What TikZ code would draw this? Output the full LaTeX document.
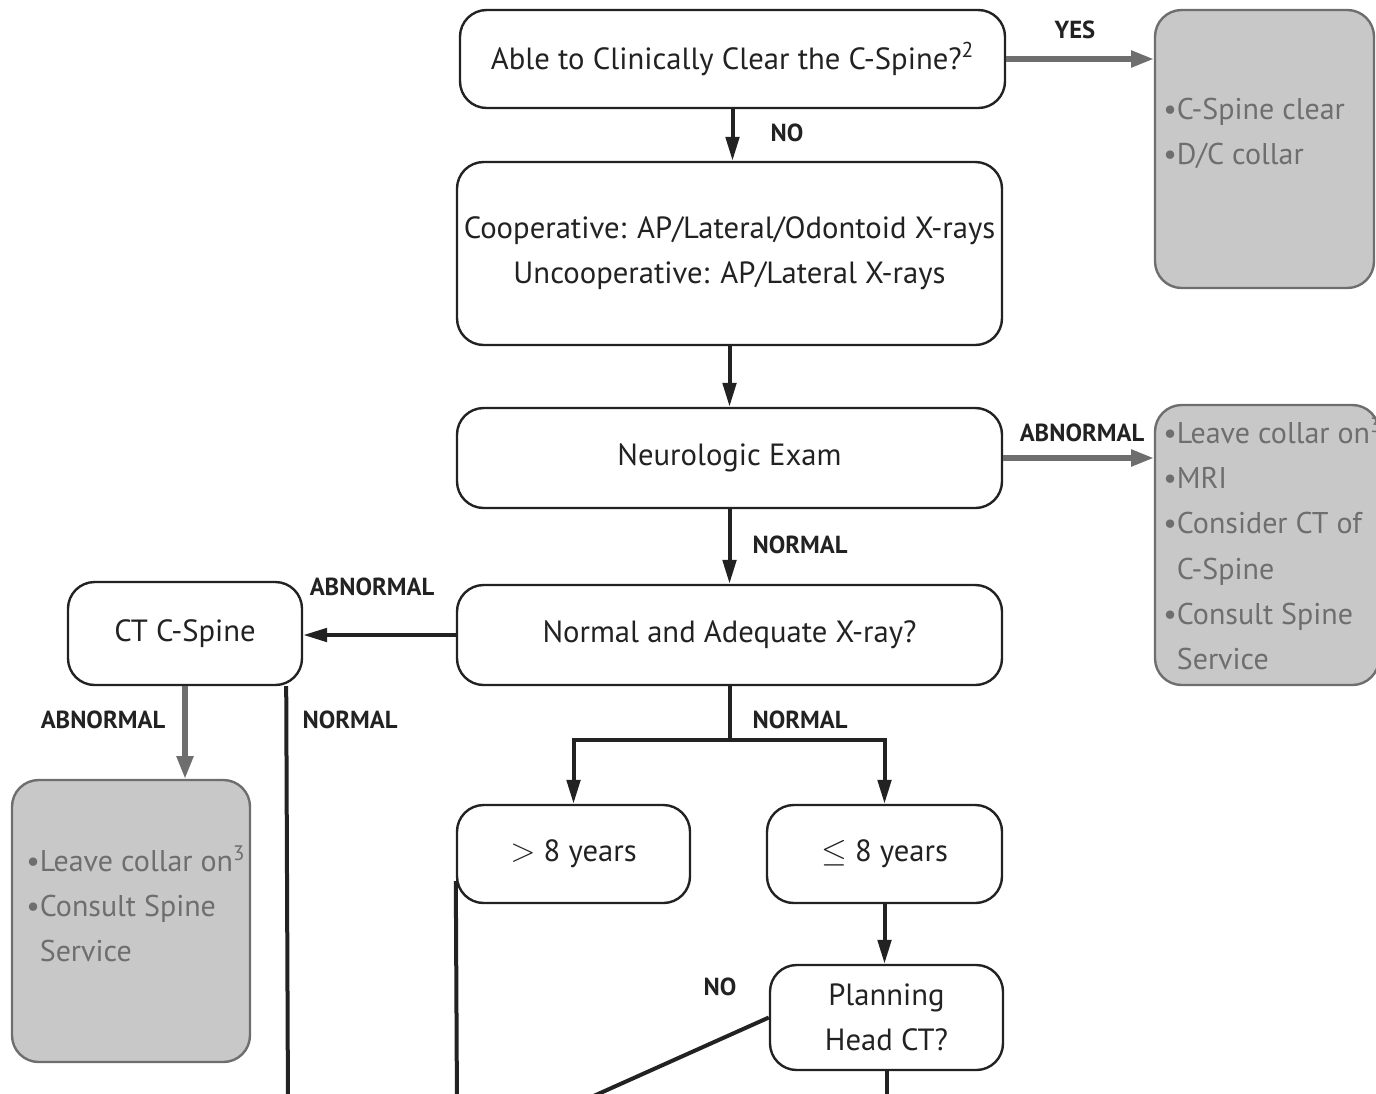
\documentclass[tikz,border=0pt]{standalone}
\usepackage{fontspec}
\setmainfont{PT Sans}
\usetikzlibrary{arrows.meta,calc}
\definecolor{ink}{HTML}{222222}
\definecolor{gline}{HTML}{6E6E6E}
\definecolor{gfill}{HTML}{C8C8C8}
\begin{document}
\begin{tikzpicture}[x=0.75pt,y=-0.75pt,
  sz/.style 2 args={minimum width={#1*0.75pt}, minimum height={#2*0.75pt}},
  box/.style={draw=ink, line width=1.8pt, rounded corners=20pt, fill=white, align=center, text=ink, inner sep=0pt, font=\fontsize{23}{34}\selectfont},
  gbox/.style={draw=gline, line width=1.8pt, rounded corners=20pt, fill=gfill, inner sep=0pt},
  gtext/.style={text=gline, align=left, anchor=north west, inner sep=0pt, font=\fontsize{22.5}{34}\selectfont},
  lab/.style={text=ink, inner sep=0pt, font=\fontsize{18.5}{22}\selectfont\bfseries},
  line/.style={draw=ink, line width=3pt},
  conn/.style={line, -{Triangle[length=18pt,width=10pt]}},
  gconn/.style={draw=gline, line width=3.8pt, -{Triangle[length=17pt,width=12pt]}}
]
\useasboundingbox (0,0) rectangle (1376,1093);
\clip (0,0) rectangle (1376,1093);

% main boxes
\node[box, sz={545}{98}] (A) at (732.5,59) {Able to Clinically Clear the C-Spine?\textsuperscript{2}};
\node[box, sz={545}{183}] (B) at (729.5,253.5) {Cooperative: AP/Lateral/Odontoid X-rays\\Uncooperative: AP/Lateral X-rays};
\node[box, sz={545}{100}] (C) at (729.5,458) {Neurologic Exam};
\node[box, sz={545}{100}] (E) at (729.5,635) {Normal and Adequate X-ray?};
\node[box, sz={234}{103}] (F) at (185,633.5) {CT C-Spine};
\node[box, sz={233}{98}] (H) at (573.5,854) {$>$ 8 years};
\node[box, sz={235}{98}] (I) at (884.5,854) {$\leq$ 8 years};
\node[box, sz={233}{105}] (J) at (886.5,1017.5) {Planning\\Head CT?};

% gray boxes
\node[gbox, sz={219}{278}] (Y) at (1264.5,149) {};
\node[gtext] (Yt) at (1163,98) {\textbullet C-Spine clear\\\textbullet D/C collar};
\node[gbox, sz={224}{280}] (D) at (1267,545) {};
\node[gtext] (Dt) at (1163,418) {\textbullet Leave collar on\textsuperscript{3}\\\textbullet MRI\\\textbullet Consider CT of\\\phantom{\textbullet}C-Spine\\\textbullet Consult Spine\\\phantom{\textbullet}Service};
\node[gbox, sz={238}{282}] (G) at (131,921) {};
\node[gtext] (Gt) at (26,846) {\textbullet Leave collar on\textsuperscript{3}\\\textbullet Consult Spine\\\phantom{\textbullet}Service};

% connectors
\draw[gconn] (A.east) -- (A.east -| Y.west);
\node[lab] (lyes) at (1075,30) {YES};
\draw[conn] (A.south) -- (A.south |- B.north);
\node[lab] (lno1) at (787,133) {NO};
\draw[conn] (B.south) -- (B.south |- C.north);
\draw[gconn] (C.east) -- (C.east -| D.west);
\node[lab] (lab1) at (1082,433) {ABNORMAL};
\draw[conn] (C.south) -- (E.north);
\node[lab] (lnorm1) at (800,545) {NORMAL};
\draw[conn] (E.west) -- (E.west -| F.east);
\node[lab] (lab2) at (372,587) {ABNORMAL};
\draw[gconn] (F.south) -- (F.south |- G.north);
\node[lab] (lab3) at (103,720) {ABNORMAL};
\coordinate (fend) at (288,1110);
\draw[line] ($(F.south east)+(-17,0)$) -- (fend);
\node[lab] (lnorm2) at (350,720) {NORMAL};
\coordinate (split) at (729.5,740);
\draw[line] (E.south) -- (split);
\draw[conn] (split) -| (H.north);
\draw[conn] (split) -| (I.north);
\node[lab] (lnorm3) at (800,720) {NORMAL};
\coordinate (hend) at (457,1110);
\draw[line] ($(H.south west)+(0,-23)$) -- (hend);
\draw[conn] (I.south) -- (I.south |- J.north);
\coordinate (noend) at (540,1120);
\draw[line] (J.west) -- (noend);
\node[lab] (lno2) at (720,987) {NO};
\coordinate (jend) at (886.5,1110);
\draw[line] (J.south) -- (jend);
\end{tikzpicture}
\end{document}
